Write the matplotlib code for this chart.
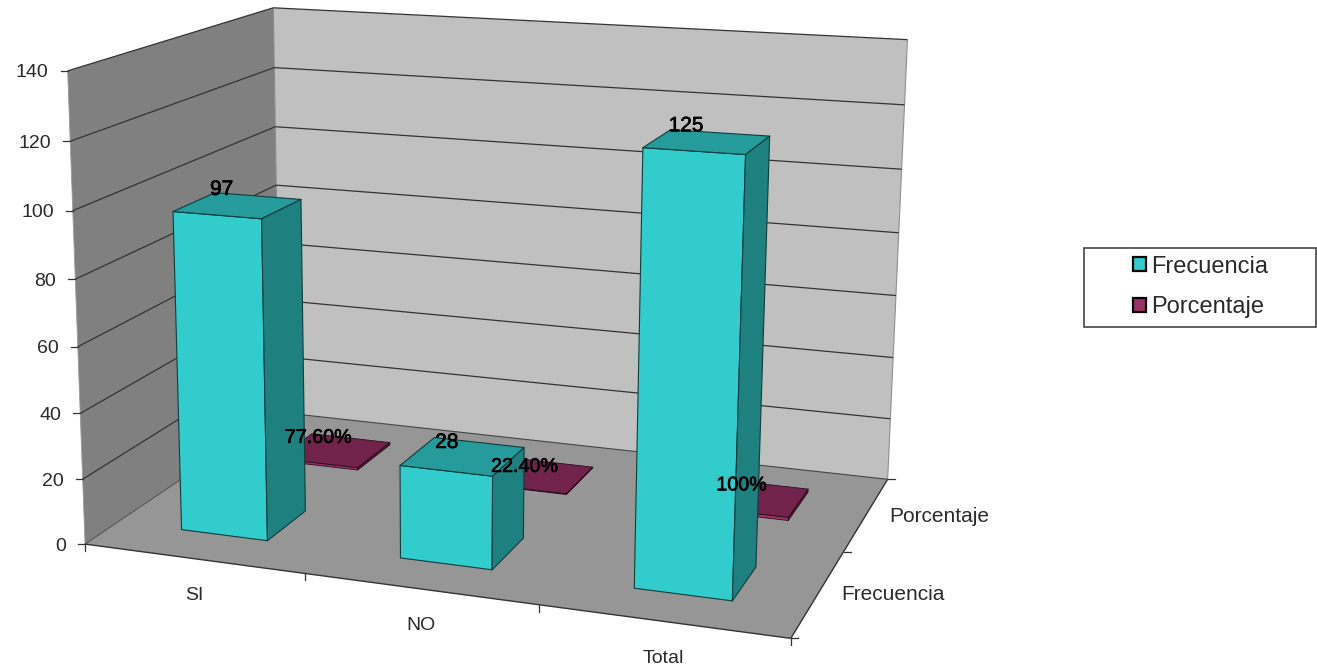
import matplotlib
matplotlib.use('Agg')
import matplotlib.pyplot as plt
import matplotlib.patheffects as pe
from matplotlib.patches import Polygon, Patch, Rectangle
import numpy as np

categories = ['SI', 'NO', 'Total']
series_names = ['Frecuencia', 'Porcentaje']
frecuencia = [97, 28, 125]
porcentaje = [0.776, 0.224, 1.0]
frecuencia_labels = ['97', '28', '125']
porcentaje_labels = ['77.60%', '22.40%', '100%']
y_ticks = [0, 20, 40, 60, 80, 100, 120, 140]

W, H = 1317, 671
plt.rcParams['font.family'] = ['Liberation Sans', 'DejaVu Sans']

# (category, series, value) -> picture pixel, fitted on the corners of the box
box_pts = [(0, 0, 0), (0, 0, 140), (0, 0, 100), (1, 0, 0), (2, 0, 0), (3, 0, 0), (3, 1, 0),
           (0, 2, 0), (0, 2, 140), (3, 2, 0), (3, 2, 140)]
px_pts = [(87, 545), (66, 70), (73, 211), (305, 573), (538, 605), (789, 638), (847, 552),
          (278, 412), (275, 8), (887, 479), (907, 40)]

# label shifts from the bar top, in pixels
frec_shift = [(-16, -16), (-16, -14), (-21, -16)]
porc_shift = [(-16, -13), (-13, -9), (-12, -13)]


def fit_camera(src, dst):
    A, b = [], []
    for (x, d, v), (u, w) in zip(src, dst):
        A.append([x, d, v, 1, 0, 0, 0, 0, -u * x, -u * d, -u * v])
        A.append([0, 0, 0, 0, x, d, v, 1, -w * x, -w * d, -w * v])
        b += [u, w]
    p = np.linalg.lstsq(np.array(A, float), np.array(b, float), rcond=None)[0]
    return np.append(p, 1).reshape(3, 4)


cam = fit_camera(box_pts, px_pts)


def proj(x, d, v):
    q = cam @ np.array([x, d, v, 1.0])
    return q[0] / q[2], q[1] / q[2]


fig = plt.figure(figsize=(W / 100, H / 100), dpi=100)
ax = fig.add_axes([0, 0, 1, 1])
ax.set_xlim(0, W)
ax.set_ylim(H, 0)
ax.axis('off')


def face(pts, color, edge='none', lw=0.0, z=1):
    ax.add_patch(Polygon([proj(*p) for p in pts], closed=True, facecolor=color,
                         edgecolor=edge, linewidth=lw, zorder=z, joinstyle='round'))


def seg(a, b, color='#333333', lw=0.9, z=2):
    p, q = proj(*a), proj(*b)
    ax.plot([p[0], q[0]], [p[1], q[1]], color=color, lw=lw, zorder=z, solid_capstyle='butt')


nx, nd, top = len(categories), len(series_names), y_ticks[-1]

# walls and floor
face([(0, 0, 0), (0, 2, 0), (0, 2, top), (0, 0, top)], '#808080', z=1)
face([(0, 2, 0), (nx, 2, 0), (nx, 2, top), (0, 2, top)], '#c0c0c0', z=1)
face([(0, 0, 0), (nx, 0, 0), (nx, 2, 0), (0, 2, 0)], '#969696', z=1)
seg((0, 2, 0), (0, 2, top), '#8a8a8a', 0.8)
seg((nx, 2, 0), (nx, 2, top), '#8f8f8f', 0.8)
seg((0, 0, 0), (0, 0, top), '#999999', 0.6)
seg((0, 2, 0), (nx, 2, 0), '#444444', 0.8)
seg((0, 0, 0), (0, 2, 0), '#555555', 0.8)
seg((0, 0, 0), (nx, 0, 0), '#333333', 1.0)
seg((nx, 0, 0), (nx, 2, 0), '#333333', 1.0)

# gridlines and value axis
for v in y_ticks:
    if v > 0:
        seg((0, 0, v), (0, 2, v))
        seg((0, 2, v), (nx, 2, v))
    px, py = proj(0, 0, v)
    ax.plot([px - 7, px], [py, py], color='#333333', lw=0.9, zorder=2)
    ax.text(px - 19, py + 2, str(v), ha='right', va='center', fontsize=14, color='#2a2a2a', zorder=8)

# category and series ticks
for i in range(nx + 1):
    px, py = proj(i, 0, 0)
    ax.plot([px, px], [py, py + 7], color='#333333', lw=0.9, zorder=2)
for i in range(nd + 1):
    px, py = proj(nx, i, 0)
    ax.plot([px, px + 7], [py, py], color='#333333', lw=0.9, zorder=2)
for i, c in enumerate(categories):
    px, py = proj(i + 0.5, 0, 0)
    ax.text(px + 1, py + 37, c, ha='center', va='center', fontsize=14, color='#2a2a2a', zorder=8)
for i, s in enumerate(series_names):
    px, py = proj(nx, i + 0.5, 0)
    ax.text(px + 23, py + 1 + 2 * i, s, ha='left', va='center', fontsize=15, color='#2a2a2a', zorder=8)


def bar(i, j, val, front, top_c, side):
    x0, x1 = i + 0.3, i + 0.7
    d0, d1 = j + 0.3, j + 0.7
    z = 3 + j * -1 + 1 + i * 0.1
    edge, lw = '#103c3c', 0.8
    if j == 1:
        edge, lw = '#2c0c20', 0.6
    face([(x0, d0, 0), (x1, d0, 0), (x1, d0, val), (x0, d0, val)], front, edge, lw, z)
    face([(x0, d0, val), (x1, d0, val), (x1, d1, val), (x0, d1, val)], top_c, edge, lw, z)
    face([(x1, d0, 0), (x1, d1, 0), (x1, d1, val), (x1, d0, val)], side, edge, lw, z)


# back series first so the front bars cover it
for i, val in enumerate(porcentaje):
    bar(i, 1, val, '#993366', '#72234b', '#4c1a33')
for i, val in enumerate(frecuencia):
    bar(i, 0, val, '#33cccc', '#269b9b', '#1f8080')

bold = [pe.withStroke(linewidth=0.5, foreground='black')]
for i, val in enumerate(frecuencia):
    px, py = proj(i + 0.5, 0.5, val)
    ax.text(px + frec_shift[i][0], py + frec_shift[i][1], frecuencia_labels[i], ha='center', va='center',
            fontsize=15, color='black', zorder=9, path_effects=bold)
for i, val in enumerate(porcentaje):
    px, py = proj(i + 0.5, 1.5, val)
    ax.text(px + porc_shift[i][0], py + porc_shift[i][1], porcentaje_labels[i], ha='center', va='center',
            fontsize=14.2, color='black', zorder=9, path_effects=bold)

# legend
ax.add_patch(Rectangle((1084, 248), 232, 79, facecolor='white', edgecolor='#444444', linewidth=1.2, zorder=5))
handles = [Patch(facecolor='#33cccc', edgecolor='black', linewidth=1.6),
           Patch(facecolor='#993366', edgecolor='black', linewidth=1.6)]
leg = ax.legend(handles, series_names, loc='center left', bbox_to_anchor=(1133 / W, 1 - 287 / H),
                bbox_transform=fig.transFigure, frameon=False, fontsize=17, handlelength=0.55,
                handleheight=0.55, handletextpad=0.23, labelspacing=0.8, labelcolor='#2a2a2a',
                borderpad=0, borderaxespad=0)
leg.set_zorder(6)

fig.savefig('out.png', dpi=100)
